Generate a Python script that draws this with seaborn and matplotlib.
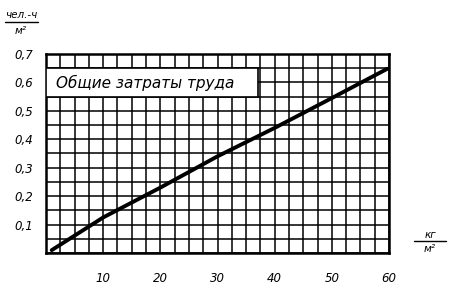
import matplotlib
matplotlib.use("Agg")
import matplotlib.pyplot as plt
import seaborn as sns
import pandas as pd
from matplotlib.ticker import MultipleLocator
from matplotlib.patches import Rectangle

# Data
load_kg_m2 = [1, 10, 20, 30, 40, 50, 59.7]
labour = [0.01, 0.125, 0.23, 0.34, 0.44, 0.545, 0.648]
x_ticks = [10, 20, 30, 40, 50, 60]
x_tick_labels = ["10", "20", "30", "40", "50", "60"]
y_ticks = [0.1, 0.2, 0.3, 0.4, 0.5, 0.6, 0.7]
y_tick_labels = ["0,1", "0,2", "0,3", "0,4", "0,5", "0,6", "0,7"]
series_label = "Общие затраты труда"

df = pd.DataFrame({"x": load_kg_m2, "y": labour})

sns.set_style("white")
plt.rcParams['font.family'] = ['DejaVu Sans']
plt.rcParams['text.color'] = 'black'

fig = plt.figure(figsize=(4.57, 2.90), dpi=100)
ax = fig.add_axes([46/457, 1-253/290, (389-46)/457, (253-54)/290])

sns.lineplot(data=df, x="x", y="y", ax=ax, color="black", linewidth=2.8, zorder=5)

ax.set_xlim(0, 60)
ax.set_ylim(0, 0.7)
ax.xaxis.set_major_locator(MultipleLocator(10))
ax.xaxis.set_minor_locator(MultipleLocator(2.5))
ax.yaxis.set_major_locator(MultipleLocator(0.1))
ax.yaxis.set_minor_locator(MultipleLocator(0.05))
ax.grid(True, which="both", color="black", linewidth=1.1)
ax.set_axisbelow(True)

ax.set_xticks(x_ticks)
ax.set_xticklabels(x_tick_labels, fontstyle="italic", fontsize=8.5, color="black")
ax.set_yticks(y_ticks)
ax.set_yticklabels(y_tick_labels, fontstyle="italic", fontsize=8.5, color="black")
ax.tick_params(axis="x", which="major", direction="out", length=5, width=1.2, color="black", pad=9)
ax.tick_params(axis="y", which="major", direction="out", length=5, width=1.2, color="black", pad=4)
ax.tick_params(which="minor", length=0)
ax.set_xlabel("")
ax.set_ylabel("")
for s in ax.spines.values():
    s.set_color("black")
    s.set_linewidth(1.8)

# Label box
ax.add_patch(Rectangle((0, 0.55), 37, 0.1, facecolor="white", edgecolor="black",
                       linewidth=1.2, zorder=3))
ax.text(1.8, 0.6, series_label, fontsize=11, fontstyle="italic", va="center",
        ha="left", zorder=4, color="black")

# Unit labels
fig.text(21/457, 1-15/290, "чел.-ч", fontsize=7.5, fontstyle="italic", ha="center", va="center")
fig.add_artist(plt.Line2D([5/457, 38/457], [1-22/290, 1-22/290], color="black", linewidth=1))
fig.text(21/457, 1-31/290, "м²", fontsize=7.5, fontstyle="italic", ha="center", va="center")

fig.text(430/457, 1-235/290, "кг", fontsize=7.5, fontstyle="italic", ha="center", va="center")
fig.add_artist(plt.Line2D([414/457, 446/457], [1-241/290, 1-241/290], color="black", linewidth=1))
fig.text(430/457, 1-249/290, "м²", fontsize=7.5, fontstyle="italic", ha="center", va="center")

fig.savefig("out.png", dpi=100, facecolor="white")
